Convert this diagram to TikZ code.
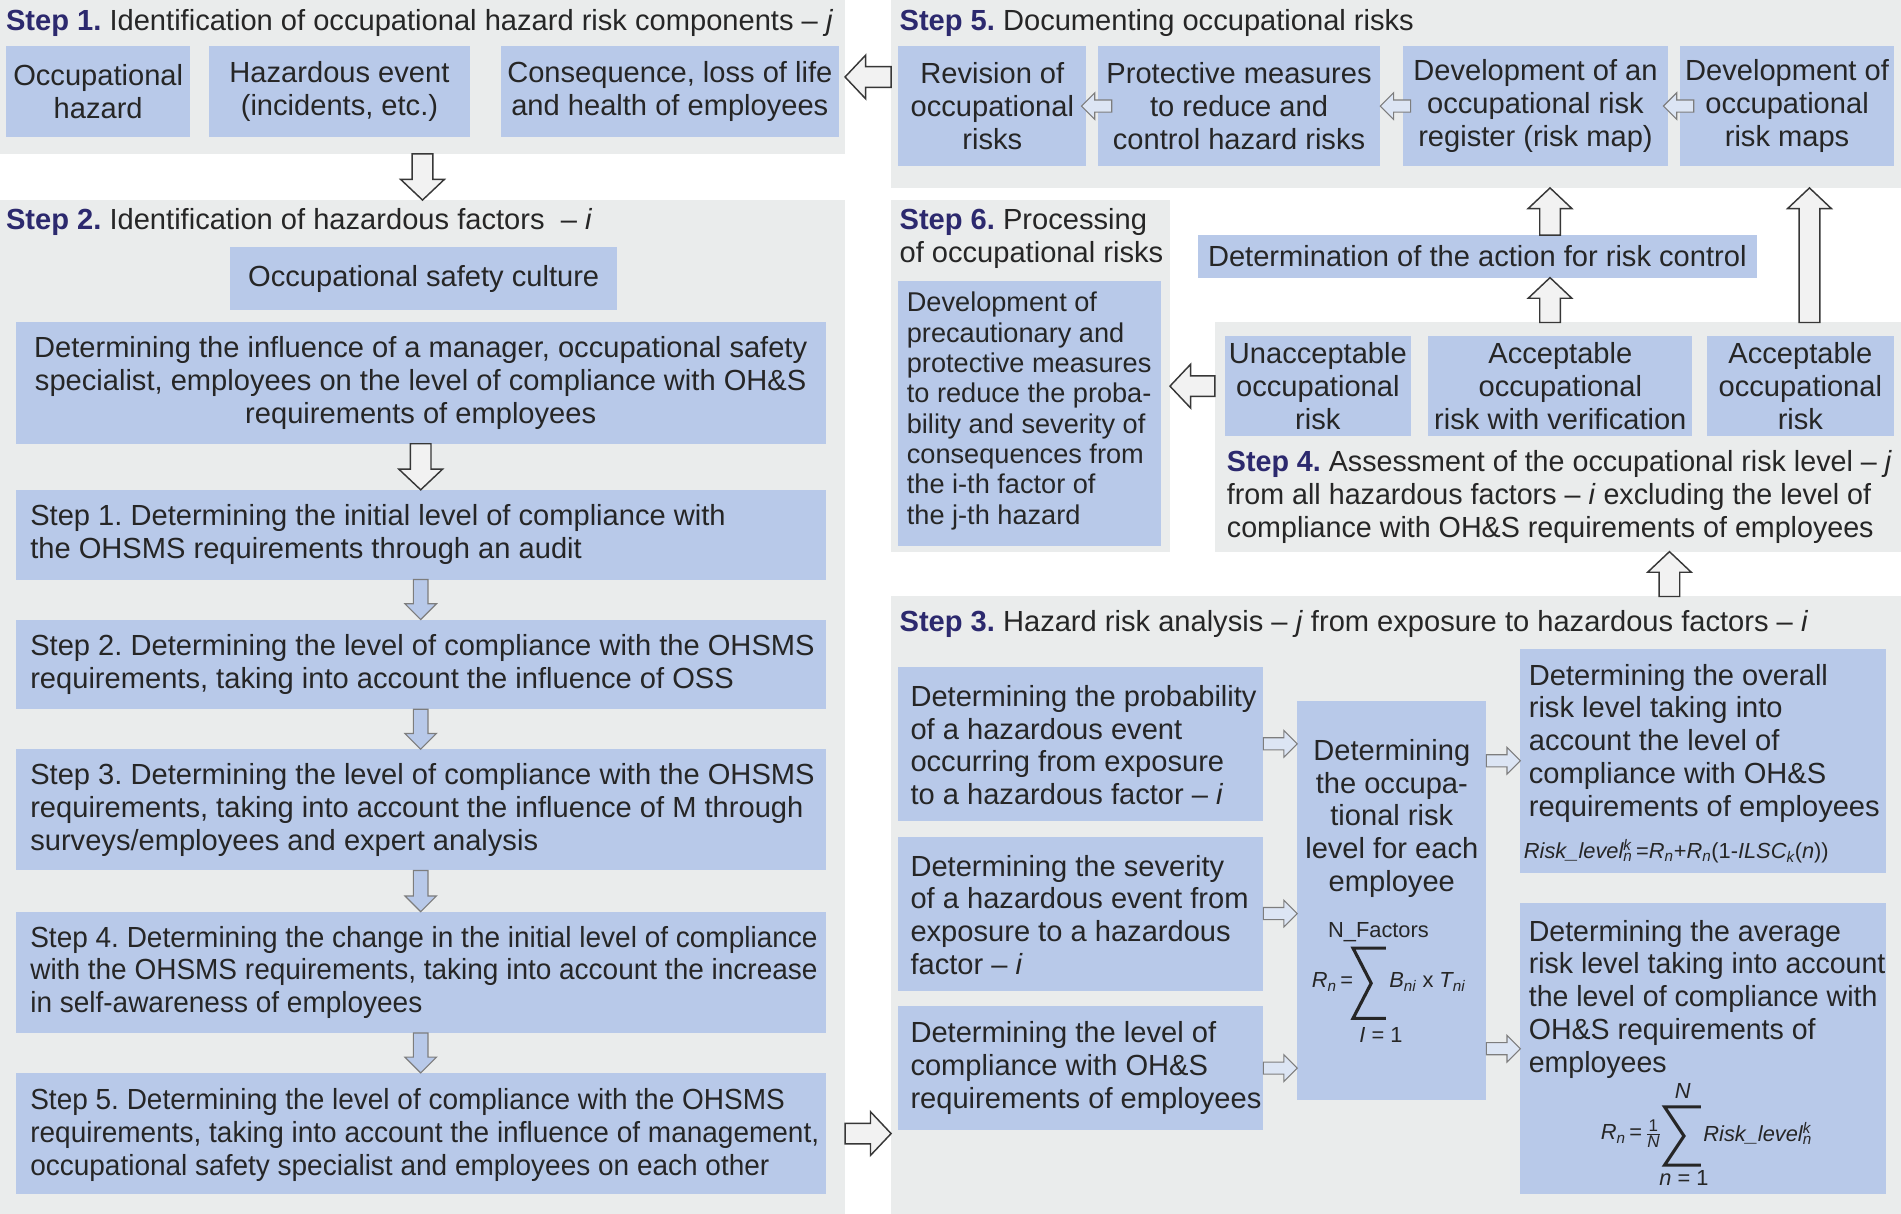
\documentclass[tikz,border=0pt]{standalone}
\usepackage{fontspec}
\setmainfont{Liberation Sans}
\usetikzlibrary{calc}
\definecolor{boxblue}{RGB}{184,201,233}
\definecolor{panelgray}{RGB}{234,236,236}
\definecolor{txtc}{RGB}{38,38,38}
\definecolor{navyc}{RGB}{44,41,110}
\definecolor{arrfill}{RGB}{242,242,242}
\definecolor{arrline}{RGB}{55,55,55}
\definecolor{smallfill}{RGB}{220,229,244}
\newcommand\fsmain{\fontsize{24}{27}\selectfont}
\newcommand\fssix{\fontsize{22.4}{25}\selectfont}
\newcommand\fsform{\fontsize{18}{20}\selectfont}
\newcommand\stp[1]{{\color{navyc}\bfseries #1}}
\newcommand\subsup[2]{\makebox[0pt][l]{\textsuperscript{#2}}\textsubscript{#1}}
\newcommand\blockarr[6]{%
  \path (#2) coordinate (ba-s) (#3) coordinate (ba-e);
  \path ($(ba-e)!#6!(ba-s)$) coordinate (ba-h);
  \draw[#1] ($(ba-s)!#4!90:(ba-e)$) -- ($(ba-h)!#4!90:(ba-e)$) -- ($(ba-h)!#5!90:(ba-e)$) -- (ba-e) -- ($(ba-h)!#5!-90:(ba-e)$) -- ($(ba-h)!#4!-90:(ba-e)$) -- ($(ba-s)!#4!-90:(ba-e)$) -- cycle;}
\newcommand\bigarr[2]{\blockarr{bigarrow}{#1}{#2}{8.5pt}{18pt}{17pt}}
\newcommand\bluearr[2]{\blockarr{bluearrow}{#1}{#2}{6pt}{13pt}{13pt}}
\newcommand\lightarr[2]{\blockarr{lightarrow}{#1}{#2}{5pt}{11pt}{11pt}}
\tikzset{
 panel/.style={fill=panelgray, inner sep=0pt, outer sep=0pt, anchor=north west},
 bx/.style={fill=boxblue, inner sep=0pt, outer sep=0pt, text=txtc, font=\fsmain, align=center, anchor=north west},
 tx/.style={inner sep=0pt, outer sep=0pt, text=txtc, font=\fsmain},
 fm/.style={inner sep=0pt, outer sep=0pt, text=txtc, font=\fsform},
 bigarrow/.style={fill=arrfill, draw=arrline, line width=1.2pt, line join=miter},
 bluearrow/.style={fill=boxblue, draw=arrline!65, line width=0.9pt},
 lightarrow/.style={fill=smallfill, draw=arrline!65, line width=0.9pt},
 sig/.style={draw=txtc, line width=2.6pt, line join=miter, line cap=butt}
}
\begin{document}
\frenchspacing
\begin{tikzpicture}[x=1pt,y=-1pt]
\path[use as bounding box, fill=white] (0,0) rectangle (1568,1001);
% panels
\node[panel, minimum width=697pt, minimum height=127pt] (p1) at (0,0) {};
\node[panel, minimum width=833pt, minimum height=155pt] (p5) at (735,0) {};
\node[panel, minimum width=697pt, minimum height=836pt] (p2) at (0,165) {};
\node[panel, minimum width=230pt, minimum height=290pt] (p6) at (735,165) {};
\node[panel, minimum width=566pt, minimum height=189pt] (p4) at (1002,266) {};
\node[panel, minimum width=833pt, minimum height=509pt] (p3) at (735,492) {};
% titles
\node[tx, anchor=west] (t1) at (5,19) {\stp{Step 1.} Identification of occupational hazard risk components – \textit{j}};
\node[tx, anchor=west] (t5) at (742,19) {\stp{Step 5.} Documenting occupational risks};
\node[tx, anchor=west] (t2) at (5,183) {\stp{Step 2.} Identification of hazardous factors~~– \textit{i}};
\node[tx, anchor=west, align=left] (t6) at (742,197) {\stp{Step 6.} Processing\\of occupational risks};
\node[tx, anchor=west, align=left, xscale=0.985, transform shape] (t4) at (1012,410) {\stp{Step 4.} Assessment of the occupational risk level – \textit{j}\\from all hazardous factors – \textit{i} excluding the level of\\compliance with OH\&S requirements of employees};
\node[tx, anchor=west] (t3) at (742,515) {\stp{Step 3.} Hazard risk analysis – \textit{j} from exposure to hazardous factors – \textit{i}};
% step 1 boxes
\node[bx, minimum width=152pt, minimum height=75pt] (b1a) at (5,38) {Occupational\\hazard};
\node[bx, minimum width=216pt, minimum height=75pt] (b1b) at (172,38) {Hazardous event\\(incidents, etc.)};
\node[bx, minimum width=279pt, minimum height=75pt] (b1c) at (413,38) {Consequence, loss of life\\and health of employees};
% step 5 boxes
\node[bx, minimum width=155pt, minimum height=99pt] (b5a) at (741,38) {Revision of\\occupational\\risks};
\node[bx, minimum width=232pt, minimum height=99pt] (b5b) at (906,38) {Protective measures\\to reduce and\\control hazard risks};
\node[bx, minimum width=219pt, minimum height=99pt] (b5c) at (1157,38) {Development of an\\occupational risk\\register (risk map)};
\node[bx, minimum width=176pt, minimum height=99pt] (b5d) at (1386,38) {Development of\\occupational\\risk maps};
% step 2 boxes
\node[bx, minimum width=319pt, minimum height=52pt] (b2a) at (190,204) {Occupational safety culture};
\node[bx, minimum width=668pt, minimum height=100pt] (b2b) at (13,266) {Determining the influence of a manager, occupational safety\\specialist, employees on the level of compliance with OH\&S\\requirements of employees};
\node[bx, minimum width=668pt, minimum height=74pt] (b2c) at (13,404) {};
\node[bx, minimum width=668pt, minimum height=74pt] (b2d) at (13,511) {};
\node[bx, minimum width=668pt, minimum height=100pt] (b2e) at (13,618) {};
\node[bx, minimum width=668pt, minimum height=100pt] (b2f) at (13,752) {};
\node[bx, minimum width=668pt, minimum height=100pt] (b2g) at (13,885) {};
\node[tx, anchor=west, align=left] (b2c-t) at ($(b2c.west)+(12,0)$) {Step 1. Determining the initial level of compliance with\\the OHSMS requirements through an audit};
\node[tx, anchor=west, align=left] (b2d-t) at ($(b2d.west)+(12,0)$) {Step 2. Determining the level of compliance with the OHSMS\\requirements, taking into account the influence of OSS};
\node[tx, anchor=west, align=left] (b2e-t) at ($(b2e.west)+(12,0)$) {Step 3. Determining the level of compliance with the OHSMS\\requirements, taking into account the influence of M through\\surveys/employees and expert analysis};
\node[tx, anchor=west, align=left, xscale=0.962, transform shape] (b2f-t) at ($(b2f.west)+(12,0)$) {Step 4. Determining the change in the initial level of compliance\\with the OHSMS requirements, taking into account the increase\\in self-awareness of employees};
\node[tx, anchor=west, align=left, xscale=0.962, transform shape] (b2g-t) at ($(b2g.west)+(12,1)$) {Step 5. Determining the level of compliance with the OHSMS\\requirements, taking into account the influence of management,\\occupational safety specialist and employees on each other};
% step 6
\node[bx, minimum width=217pt, minimum height=218pt] (b6) at (741,232) {};
\node[tx, font=\fssix, anchor=west, align=left] (b6-t) at ($(b6.west)+(7,-2)$) {Development of\\precautionary and\\protective measures\\to reduce the proba-\\bility and severity of\\consequences from\\the i-th factor of\\the j-th hazard};
% action
\node[bx, minimum width=461pt, minimum height=35pt] (ba) at (988,194) {Determination of the action for risk control};
% step 4 boxes
\node[bx, minimum width=154pt, minimum height=83pt] (b4a) at (1010,277) {Unacceptable\\occupational\\risk};
\node[bx, minimum width=218pt, minimum height=83pt] (b4b) at (1178,277) {Acceptable\\occupational\\risk with verification};
\node[bx, minimum width=154pt, minimum height=83pt] (b4c) at (1408,277) {Acceptable\\occupational\\risk};
% step 3 boxes
\node[bx, minimum width=301pt, minimum height=127pt] (b3a) at (741,550) {};
\node[bx, minimum width=301pt, minimum height=127pt] (b3b) at (741,690) {};
\node[bx, minimum width=301pt, minimum height=102pt] (b3c) at (741,830) {};
\node[bx, minimum width=156pt, minimum height=329pt] (b3d) at (1070,578) {};
\node[bx, minimum width=302pt, minimum height=185pt] (b3e) at (1254,535) {};
\node[bx, minimum width=302pt, minimum height=240pt] (b3f) at (1254,745) {};
\node[tx, anchor=west, align=left] (b3a-t) at ($(b3a.west)+(10,1)$) {Determining the probability\\of a hazardous event\\occurring from exposure\\to a hazardous factor – \textit{i}};
\node[tx, anchor=west, align=left] (b3b-t) at ($(b3b.west)+(10,1)$) {Determining the severity\\of a hazardous event from\\exposure to a hazardous\\factor – \textit{i}};
\node[tx, anchor=west, align=left] (b3c-t) at ($(b3c.west)+(10,0)$) {Determining the level of\\compliance with OH\&S\\requirements of employees};
\node[tx, align=center] (b3d-t) at (1148,675) {Determining\\the occupa-\\tional risk\\level for each\\employee};
\node[tx, anchor=west, align=left] (b3e-t) at (1261,613) {Determining the overall\\risk level taking into\\account the level of\\compliance with OH\&S\\requirements of employees};
\node[tx, anchor=west, align=left, xscale=0.98, transform shape] (b3f-t) at (1261,824) {Determining the average\\risk level taking into account\\the level of compliance with\\OH\&S requirements of\\employees};
% formula in b3d
\node[fm] (fdN) at (1137,769) {N\_Factors};
\draw[sig] (1143,782) -- (1116,782) -- (1131,811) -- (1116,840) -- (1143,840);
\node[fm, anchor=east] (fdR) at (1116,810) {\itshape R\textsubscript{n}\upshape\,=};
\node[fm, anchor=west] (fdB) at (1146,810) {\itshape B\textsubscript{ni}\upshape\ x \itshape T\textsubscript{ni}};
\node[fm] (fd1) at (1139,854) {\itshape I\upshape\ = 1};
% formula in b3e
\node[fm, anchor=west] (feq) at (1257,702) {\itshape Risk\_level\subsup{n}{k}\,\upshape=\itshape R\textsubscript{n}\upshape+\itshape R\textsubscript{n}\upshape(1-\itshape ILSC\textsubscript{k}\upshape(\itshape n\upshape))};
% formula in b3f
\node[fm] (ffN) at (1388,900) {\itshape N};
\draw[sig] (1403,913) -- (1373,913) -- (1389,937) -- (1373,961) -- (1403,961);
\node[fm, anchor=east] (ffR) at (1370,935) {\itshape R\textsubscript{n}\upshape\,=\,$\frac{\mbox{\fontsize{14}{14}\selectfont 1}}{\mbox{\fontsize{14}{14}\selectfont\itshape N}}$};
\node[fm, anchor=west] (ffL) at (1405,935) {\itshape Risk\_level\subsup{n}{k}};
\node[fm] (ff1) at (1389,972) {\itshape n\upshape\ = 1};
% columns for vertical arrows
\coordinate (colA) at (1278.5,0);
\coordinate (colB) at (1492.5,0);
\coordinate (colC) at (1377,0);
% big arrows
\bigarr{p5.west |- p1.east}{p1.east}
\bigarr{p1.south}{p2.north}
\bigarr{b2b.south}{b2c.north}
\bigarr{p2.east |- b2g.east}{p3.west |- b2g.east}
\bigarr{ba.north -| colA}{p5.south -| colA}
\bigarr{p4.north -| colA}{ba.south -| colA}
\bigarr{p4.north -| colB}{p5.south -| colB}
\bigarr{p4.west |- b4a.west}{p6.east |- b4a.west}
\bigarr{p3.north -| colC}{p4.south -| colC}
% small blue arrows in step 2
\bluearr{b2c.south}{b2d.north}
\bluearr{b2d.south}{b2e.north}
\bluearr{b2e.south}{b2f.north}
\bluearr{b2f.south}{b2g.north}
% small arrows in step 5
\lightarr{$(b5a.east)!.5!(b5b.west)+(16,0)$}{$(b5a.east)!.5!(b5b.west)+(-9,0)$}
\lightarr{$(b5b.east)!.5!(b5c.west)+(16,0)$}{$(b5b.east)!.5!(b5c.west)+(-9,0)$}
\lightarr{$(b5c.east)!.5!(b5d.west)+(16,0)$}{$(b5c.east)!.5!(b5d.west)+(-9,0)$}
% small arrows in step 3
\lightarr{b3a.east}{b3d.west |- b3a.east}
\lightarr{b3b.east}{b3d.west |- b3b.east}
\lightarr{b3c.east}{b3d.west |- b3c.east}
\lightarr{b3d.east |- b3e.west}{b3e.west}
\lightarr{b3d.east |- b3f.west}{b3f.west}
\end{tikzpicture}
\end{document}
